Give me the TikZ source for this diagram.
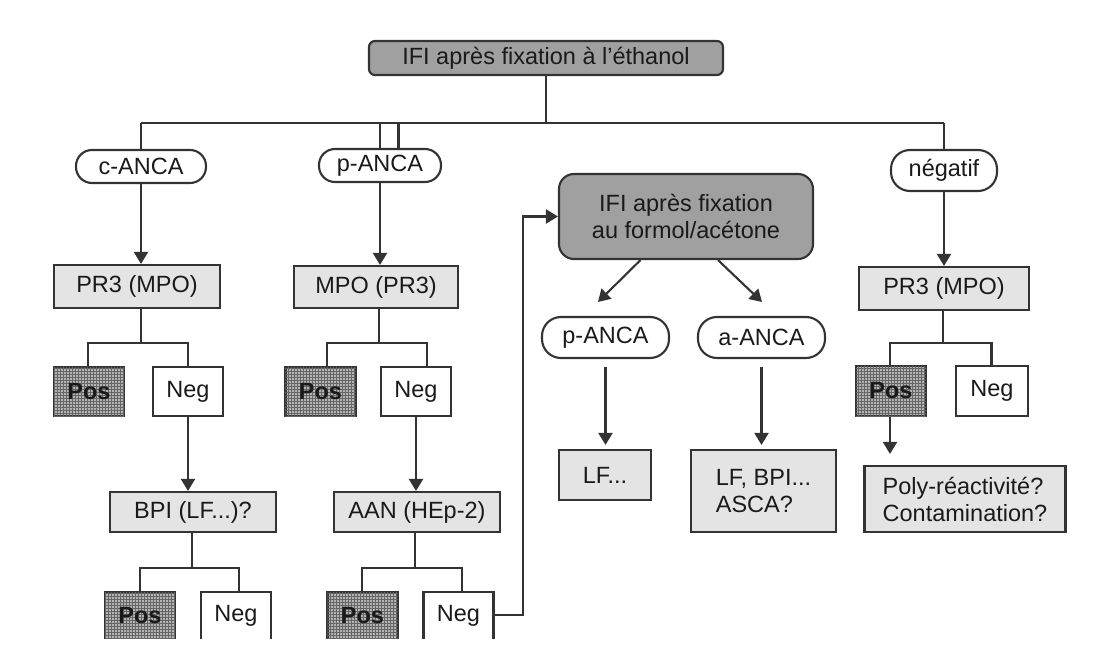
\documentclass[tikz,border=0pt]{standalone}
\usepackage{fontspec}
\setmainfont{Liberation Sans}
\usetikzlibrary{arrows.meta,patterns}
\definecolor{ln}{HTML}{333333}
\definecolor{tx}{HTML}{1A1A1A}
\definecolor{dk}{HTML}{A0A0A0}
\definecolor{lt}{HTML}{E4E4E4}
\definecolor{pz}{HTML}{B4B4B4}
\begin{document}
\begin{tikzpicture}[x=1pt,y=-1pt,
 every node/.style={font=\fontsize{23.5}{27}\selectfont, text=tx, inner sep=0pt, line width=2.1pt, draw=ln},
 lnk/.style={draw=ln,line width=2.1pt},
 arr/.style={lnk,-{Triangle[width=14pt,length=12pt]}},
 pill/.style={rounded corners=16pt, fill=white},
 grbox/.style={fill=lt},
 dkbox/.style={fill=dk, rounded corners=6pt},
 posbox/.style={fill=pz, postaction={pattern=grid, pattern color=black!60}, font=\fontsize{23.5}{27}\selectfont\bfseries, minimum width=70pt},
 negbox/.style={fill=white, minimum width=70pt},
]
\useasboundingbox (0,0) rectangle (1093,647);
\clip (0,0) rectangle (1093,638.5);

% nodes
\node[dkbox, minimum width=354pt, minimum height=34pt] (top) at (546,58) {IFI après fixation à l'éthanol};
\node[pill, minimum width=130pt, minimum height=33pt] (canca) at (141,166.5) {c-ANCA};
\node[pill, minimum width=122pt, minimum height=33pt] (panca) at (380,165.5) {p-ANCA};
\node[pill, rounded corners=19pt, minimum width=106pt, minimum height=41pt] (nega) at (944,170.5) {négatif};
\node[grbox, minimum width=166pt, minimum height=43pt] (pr3a) at (137,286.5) {PR3 (MPO)};
\node[grbox, minimum width=164pt, minimum height=42pt] (mpo) at (376,287) {MPO (PR3)};
\node[grbox, minimum width=170pt, minimum height=43pt] (pr3b) at (944,288.5) {PR3 (MPO)};
\node[dkbox, rounded corners=15pt, minimum width=254pt, minimum height=85pt, align=center] (formol) at (686,216.5) {IFI après fixation\\au formol/acétone};
\node[pill, rounded corners=19pt, minimum width=127pt, minimum height=41pt] (panca2) at (605.5,337.5) {p-ANCA};
\node[pill, rounded corners=19pt, minimum width=127pt, minimum height=41pt] (aanca) at (761.5,337.5) {a-ANCA};
\node[grbox, minimum width=92pt, minimum height=50pt] (lf) at (605,475) {LF...};
\node[grbox, minimum width=145pt, minimum height=82pt, align=left] (lfbpi) at (763.5,491) {LF, BPI...\\ASCA?};

\node[posbox, minimum height=49pt] (posc) at (89,391.5) {Pos};
\node[negbox, minimum height=49pt] (negc) at (188,391.5) {Neg};
\node[grbox, minimum width=166pt, minimum height=40pt] (bpi) at (193,512) {BPI (LF...)?};
\node[posbox, minimum height=48pt] (posc2) at (140,616) {Pos};
\node[negbox, minimum height=48pt] (negc2) at (236,616) {Neg};

\node[posbox, minimum height=49pt] (posp) at (320.5,391.5) {Pos};
\node[negbox, minimum height=49pt] (negp) at (416,391.5) {Neg};
\node[grbox, minimum width=166pt, minimum height=40pt] (aan) at (417,512) {AAN (HEp-2)};
\node[posbox, minimum height=48pt] (posp2) at (362.5,616) {Pos};
\node[negbox, minimum height=48pt] (negp2) at (458.5,616) {Neg};

\node[posbox, minimum height=50pt] (posn) at (891,391) {Pos};
\node[negbox, minimum width=72pt, minimum height=50pt] (negn) at (992,391) {Neg};
\node[grbox, minimum width=201pt, minimum height=66pt, align=left] (poly) at (965,499) {Poly-réactivité?\\Contamination?};

% top branching
\coordinate (hL) at (141,123);
\coordinate (hR) at (944,123);
\draw[lnk] (top.south) -- (top.south |- hL);
\draw[lnk] (hL) -- (hR);
\draw[lnk] (hL) -- (canca.north);
\draw[lnk] (hR) -- (nega.north);
\draw[lnk] (panca.north) -- (panca.north |- hL);
\draw[lnk] ([xshift=18.5pt]panca.north) -- ([xshift=18.5pt]panca.north |- hL);

\draw[arr] (canca.south) -- (canca.south |- pr3a.north);
\draw[arr] (panca.south) -- (panca.south |- mpo.north);
\draw[arr] (nega.south) -- (nega.south |- pr3b.north);

% c-ANCA column forks
\coordinate (fa) at (141,343); \coordinate (fal) at (88,343); \coordinate (far) at (188,343);
\draw[lnk] (pr3a.south -| fa) -- (fa);
\draw[lnk] (posc.north -| fal) |- (far) -- (negc.north -| far);
\draw[arr] (negc.south) -- (negc.south |- bpi.north);
\coordinate (fb) at (192,568); \coordinate (fbl) at (139.6,568); \coordinate (fbr) at (239,568);
\draw[lnk] (bpi.south -| fb) -- (fb);
\draw[lnk] (posc2.north -| fbl) |- (fbr) -- (negc2.north -| fbr);

% p-ANCA column forks
\coordinate (fm) at (379,343); \coordinate (fml) at (327,343); \coordinate (fmr) at (427,343);
\draw[lnk] (mpo.south -| fm) -- (fm);
\draw[lnk] (posp.north -| fml) |- (fmr) -- (negp.north -| fmr);
\draw[arr] (negp.south) -- (negp.south |- aan.north);
\coordinate (fn) at (414.6,568); \coordinate (fnl) at (362,568); \coordinate (fnr) at (462,568);
\draw[lnk] (aan.south -| fn) -- (fn);
\draw[lnk] (posp2.north -| fnl) |- (fnr) -- (negp2.north -| fnr);

% négatif column forks
\coordinate (fr) at (943,343); \coordinate (frl) at (890,343); \coordinate (frr) at (991.5,343);
\draw[lnk] (pr3b.south -| fr) -- (fr);
\draw[lnk] (posn.north -| frl) |- (frr) -- (negn.north -| frr);
\draw[arr, shorten >=11pt] (posn.south -| frl) -- (frl |- poly.north);

% link to formol/acetone
\coordinate (fc) at (523,216.5);
\draw[arr] ([yshift=1pt]negp2.east) -| (fc) -- (formol.west);
\coordinate (t1) at (598,302);
\coordinate (t2) at (762,302);
\draw[arr] ([xshift=-45.5pt]formol.south) -- (t1);
\draw[arr] ([xshift=32pt]formol.south) -- (t2);
\draw[arr, shorten <=8pt, shorten >=4pt] (panca2.south) -- (panca2.south |- lf.north);
\draw[arr, shorten <=8pt, shorten >=4pt] (aanca.south) -- (aanca.south |- lfbpi.north);
\end{tikzpicture}
\end{document}
